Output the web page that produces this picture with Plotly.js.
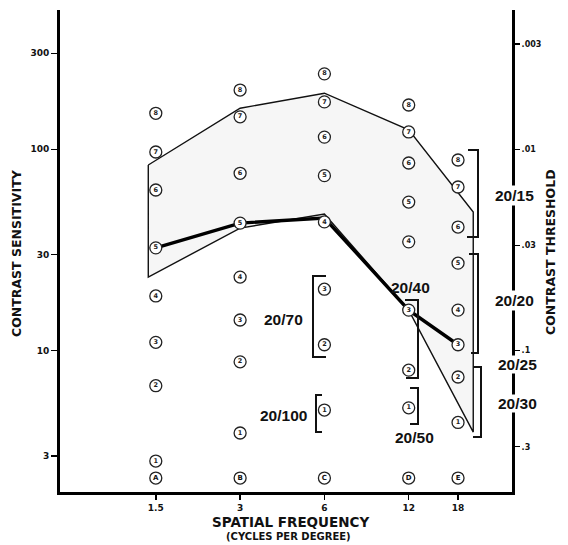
<!DOCTYPE html>
<html>
<head>
<meta charset="utf-8">
<script src="https://cdn.plot.ly/plotly-3.0.1.min.js"></script>
<style>
  html, body { margin: 0; padding: 0; background: #ffffff; }
  #chart { width: 568px; height: 545px; }
</style>
</head>
<body>
<div id="chart"></div>
<script>
// ---- data ----
const freqs = [1.5, 3, 6, 12, 18];               // cycles per degree, columns A-E
const colLetters = ['A', 'B', 'C', 'D', 'E'];
const letterRowCS = [2.33, 2.33, 2.33, 2.33, 2.33];
const patchLabels = ['1', '2', '3', '4', '5', '6', '7', '8'];
const colA = [2.83, 6.7, 11.0, 18.7, 32.4, 62.8, 97, 151];
const colB = [3.9, 8.8, 14.2, 23.2, 43, 76, 145, 197];
const colC = [5.07, 10.7, 20.2, 43.6, 74, 115, 172, 237];
const colD = [5.2, 8.0, 15.9, 34.7, 54.7, 85.5, 122, 166];
const colE = [4.4, 7.4, 10.7, 15.9, 27.2, 41.1, 65, 88.5];
const bandFreq = [1.41, 3, 6, 12, 20.4];          // normal range band
const bandUpper = [83.6, 160, 190, 125, 48.8];
const bandLower = [23.2, 40.6, 47.7, 15.9, 3.94];
const patientCS = [32.4, 43, 45.6, 15.9, 10.7];    // thick curve
const leftTicks = [3, 10, 30, 100, 300];
const thresholdTicks = [0.003, 0.01, 0.03, 0.1, 0.3];
const thresholdText = ['.003', '.01', '.03', '.1', '.3'];
const xTicks = [1.5, 3, 6, 12, 18];
const xTickText = ['1.5', '3', '6', '12', '18'];

// ---- layout helpers (pixel -> paper) ----
const L = 60, R = 512, T = 10, B = 492;
const W = 568, H = 545;
const px = x => (x - L) / (R - L);
const py = y => (B - y) / (B - T);

const TICKFONT = {family: 'DejaVu Sans', size: 9, color: '#111', weight: 'bold'};
const VAFONT = {family: 'Liberation Sans', size: 15.5, color: '#111', weight: 'bold'};

const yRange = [0.298, 2.692];
const xRange = [-0.166, 1.448];

const traces = [];

// normal band polygon
traces.push({
  x: bandFreq.concat(bandFreq.slice().reverse()).concat([bandFreq[0]]),
  y: bandUpper.concat(bandLower.slice().reverse()).concat([bandUpper[0]]),
  mode: 'lines', fill: 'toself', fillcolor: 'rgba(0,0,0,0.035)',
  line: {color: '#111', width: 1.4}, hoverinfo: 'skip', showlegend: false
});

// patient curve
traces.push({
  x: freqs, y: patientCS, mode: 'lines',
  line: {color: '#000', width: 3.4}, hoverinfo: 'skip', showlegend: false
});

// patch circles
const cols = [colA, colB, colC, colD, colE];
cols.forEach((col, i) => {
  traces.push({
    x: col.map(() => freqs[i]), y: col, text: patchLabels,
    mode: 'markers+text', textposition: 'middle center',
    textfont: {family: 'DejaVu Sans', size: 6.5, color: '#222', weight: 'bold'},
    marker: {symbol: 'circle', size: 12, color: '#fff', line: {color: '#222', width: 1.3}},
    hoverinfo: 'skip', showlegend: false
  });
});

// letter row
traces.push({
  x: freqs, y: letterRowCS, text: colLetters,
  mode: 'markers+text', textposition: 'middle center',
  textfont: {family: 'DejaVu Sans', size: 7, color: '#111', weight: 'bold'},
  marker: {symbol: 'circle', size: 12, color: '#fff', line: {color: '#222', width: 1.3}},
  hoverinfo: 'skip', showlegend: false
});

// invisible trace to anchor right (threshold) axis
traces.push({
  x: [freqs[0]], y: [leftTicks[2]], yaxis: 'y2', mode: 'markers',
  marker: {opacity: 0}, hoverinfo: 'skip', showlegend: false
});

// brackets (pixel geometry)
function bracket(points) {
  return {
    type: 'path', xref: 'paper', yref: 'paper',
    path: points.map((p, k) => (k ? 'L' : 'M') + px(p[0]) + ',' + py(p[1])).join(' '),
    line: {color: '#111', width: 2}
  };
}
const shapes = [
  bracket([[468, 150], [478, 150], [478, 237], [467, 237]]),   // 20/15
  bracket([[469, 254], [478, 254], [478, 353], [471, 353]]),   // 20/20
  bracket([[473, 367], [481, 367], [481, 437], [473, 437]]),   // 20/30
  bracket([[405, 300], [418, 300], [418, 378], [406, 378]]),   // 20/40
  bracket([[410, 388], [418, 388], [418, 424], [410, 424]]),   // 20/50
  bracket([[326, 276], [313, 276], [313, 357], [326, 357]]),   // 20/70
  bracket([[322, 395], [316, 395], [316, 432], [322, 432]])    // 20/100
];

function ann(text, x, y, font, extra) {
  return Object.assign({
    text: text, x: px(x), y: py(y), xref: 'paper', yref: 'paper',
    showarrow: false, xanchor: 'center', yanchor: 'middle', font: font
  }, extra || {});
}
const annotations = [
  ann('20/15', 514, 196, VAFONT, {bgcolor: '#fff', borderpad: 1}),
  ann('20/20', 514, 300, VAFONT, {bgcolor: '#fff', borderpad: 1}),
  ann('20/25', 517, 364, VAFONT, {bgcolor: '#fff', borderpad: 0}),
  ann('20/30', 517, 403, VAFONT, {bgcolor: '#fff', borderpad: 0}),
  ann('20/40', 410, 287, VAFONT),
  ann('20/50', 414, 437, VAFONT),
  ann('20/70', 283, 320, VAFONT),
  ann('20/100', 283, 415, VAFONT),
  ann('CONTRAST SENSITIVITY', 16, 253,
      {family: 'DejaVu Sans', size: 12.5, color: '#111', weight: 'bold'}, {textangle: -90}),
  ann('CONTRAST THRESHOLD', 550, 252,
      {family: 'DejaVu Sans', size: 12.5, color: '#111', weight: 'bold'}, {textangle: -90}),
  ann('SPATIAL FREQUENCY', 290, 522,
      {family: 'DejaVu Sans', size: 13.5, color: '#111', weight: 'bold'}),
  ann('(CYCLES PER DEGREE)', 288, 536,
      {family: 'DejaVu Sans', size: 10, color: '#111', weight: 'bold'})
];

const layout = {
  width: W, height: H,
  margin: {l: L, r: W - R, t: T, b: H - B, pad: 0},
  paper_bgcolor: '#fff', plot_bgcolor: '#fff',
  showlegend: false,
  xaxis: {
    type: 'log', range: xRange, tickvals: xTicks, ticktext: xTickText,
    showgrid: false, zeroline: false, showline: true, linewidth: 3, linecolor: '#000',
    ticks: 'outside', ticklen: 5, tickwidth: 1.5, tickcolor: '#000', tickfont: TICKFONT
  },
  yaxis: {
    type: 'log', range: yRange, tickvals: leftTicks, ticktext: leftTicks.map(String),
    showgrid: false, zeroline: false, showline: true, linewidth: 3, linecolor: '#000',
    ticks: 'outside', ticklen: 6, tickwidth: 1.5, tickcolor: '#000', tickfont: TICKFONT
  },
  yaxis2: {
    type: 'log', range: yRange, overlaying: 'y', side: 'right',
    tickvals: thresholdTicks.map(v => 1 / v), ticktext: thresholdText,
    showgrid: false, zeroline: false, showline: true, linewidth: 3, linecolor: '#000',
    ticks: 'outside', ticklen: 5, tickwidth: 1.5, tickcolor: '#000',
    tickfont: {family: 'DejaVu Sans', size: 8, color: '#111', weight: 'bold'}
  },
  shapes: shapes,
  annotations: annotations
};

Plotly.newPlot('chart', traces, layout, {staticPlot: true, displayModeBar: false});
</script>
</body>
</html>
